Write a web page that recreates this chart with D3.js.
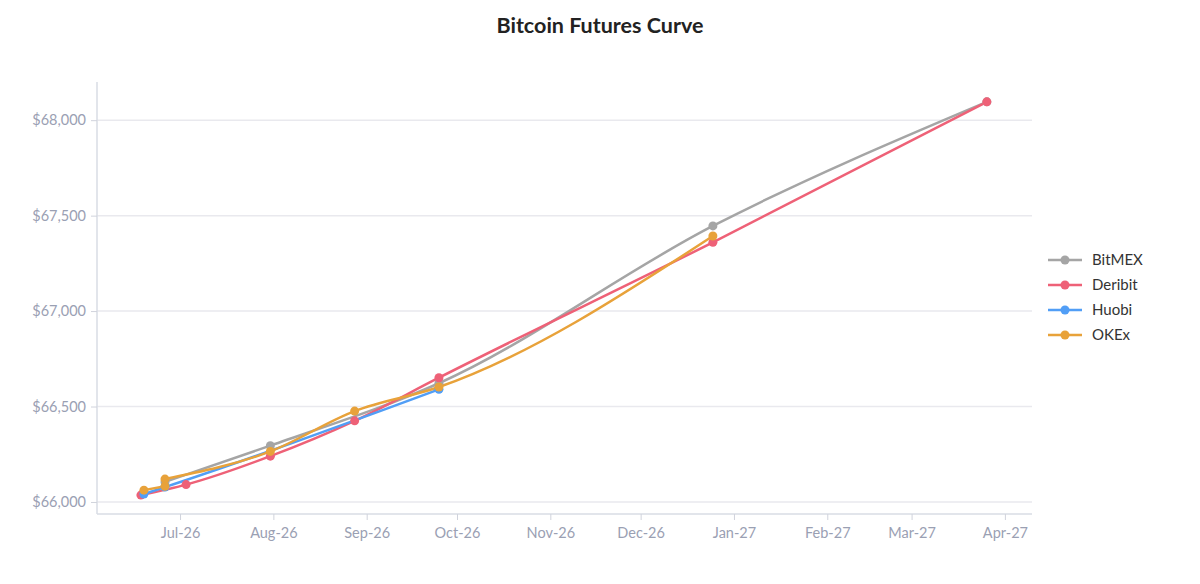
<!DOCTYPE html>
<html>
<head>
<meta charset="utf-8">
<script src="https://cdn.jsdelivr.net/npm/d3@7/dist/d3.min.js"></script>
<style>
  html, body { margin: 0; padding: 0; background: #ffffff; }
  svg { display: block; font-family: Lato, "Open Sans", sans-serif; }
</style>
</head>
<body>
<svg id="chart" width="1200" height="584"></svg>
<script>
// ---- Data ----
const seriesNames = ["BitMEX", "Deribit", "Huobi", "OKEx"];
const seriesColors = ["#a5a5a5", "#ee6177", "#519ef6", "#e8a23a"];

const bitmexDates  = ["2026-06-26", "2026-07-31", "2026-09-25", "2026-12-25", "2027-03-26"];
const bitmexValues = [66105, 66295, 66622, 67446, 68096];

const deribitDates  = ["2026-06-18", "2026-07-03", "2026-07-31", "2026-08-28", "2026-09-25", "2026-12-25", "2027-03-26"];
const deribitValues = [66036, 66091, 66240, 66425, 66651, 67360, 68096];

const huobiDates  = ["2026-06-19", "2026-06-26", "2026-09-25"];
const huobiValues = [66042, 66078, 66590];

const okexDates  = ["2026-06-19", "2026-06-26", "2026-06-26", "2026-07-31", "2026-08-28", "2026-09-25", "2026-12-25"];
const okexValues = [66062, 66082, 66120, 66265, 66476, 66602, 67393];

const yTicks = [66000, 66500, 67000, 67500, 68000];
const xTickDates = ["2026-07-01", "2026-08-01", "2026-09-01", "2026-10-01", "2026-11-01", "2026-12-01",
                    "2027-01-01", "2027-02-01", "2027-03-01", "2027-04-01"];
const titleText = "Bitcoin Futures Curve";

// ---- Build ----
const parse = d3.timeParse("%Y-%m-%d");
const allDates = [bitmexDates, deribitDates, huobiDates, okexDates];
const allValues = [bitmexValues, deribitValues, huobiValues, okexValues];
const series = seriesNames.map((name, i) => ({
  name, color: seriesColors[i],
  points: allDates[i].map((d, j) => ({ date: parse(d), value: allValues[i][j] }))
}));

const svg = d3.select("#chart");
const pLeft = 97, pRight = 1032, pTop = 82, pBottom = 514;

const x = d3.scaleTime()
  .domain([new Date(2026, 5, 3, 10), new Date(2027, 3, 10)])
  .range([pLeft, pRight]);
const y = d3.scaleLinear()
  .domain([65937, 68200])
  .range([pBottom, pTop]);

// Title
svg.append("text")
  .attr("x", 600).attr("y", 33)
  .attr("text-anchor", "middle")
  .attr("font-size", 21.5).attr("font-weight", "bold")
  .attr("fill", "#222222")
  .text(titleText);

// Gridlines
svg.append("g")
  .selectAll("line")
  .data(yTicks)
  .join("line")
  .attr("x1", pLeft).attr("x2", pRight)
  .attr("y1", d => y(d)).attr("y2", d => y(d))
  .attr("stroke", "#e9e9ee").attr("stroke-width", 1.5);

// Y axis
const yAxis = svg.append("g")
  .attr("transform", `translate(${pLeft},0)`)
  .call(d3.axisLeft(y).tickValues(yTicks).tickSize(6).tickPadding(5)
        .tickFormat(d => "$" + d3.format(",")(d)));
yAxis.select(".domain").attr("stroke", "#d9dce4").attr("stroke-width", 1.5)
  .attr("d", `M0,${pTop}V${pBottom}`);
yAxis.selectAll(".tick line").attr("stroke", "#d0d3dc");
yAxis.selectAll(".tick text").attr("fill", "#9aa0b3").attr("font-size", 14.5)
  .attr("font-family", "Lato, sans-serif");

// X axis
const xAxis = svg.append("g")
  .attr("transform", `translate(0,${pBottom})`)
  .call(d3.axisBottom(x).tickValues(xTickDates.map(parse)).tickSize(6).tickPadding(8)
        .tickFormat(d3.timeFormat("%b-%y")));
xAxis.select(".domain").attr("stroke", "#d9dce4").attr("stroke-width", 1.5)
  .attr("d", `M${pLeft},0H${pRight}`);
xAxis.selectAll(".tick line").attr("stroke", "#d0d3dc");
xAxis.selectAll(".tick text").attr("fill", "#9aa0b3").attr("font-size", 14.5)
  .attr("font-family", "Lato, sans-serif");

// Lines (monotone; points sharing a date are joined by a straight segment)
const smooth = d3.line()
  .x(d => x(d.date)).y(d => y(d.value))
  .curve(d3.curveMonotoneX);
const straight = d3.line()
  .x(d => x(d.date)).y(d => y(d.value));

function chunks(points) {
  const out = [];
  let cur = [points[0]];
  for (let i = 1; i < points.length; i++) {
    if (+points[i].date === +points[i - 1].date) {
      out.push({ pts: cur, curve: true });
      out.push({ pts: [points[i - 1], points[i]], curve: false });
      cur = [points[i]];
    } else {
      cur.push(points[i]);
    }
  }
  out.push({ pts: cur, curve: true });
  return out;
}

const g = svg.append("g");
series.forEach(s => {
  chunks(s.points).forEach(c => {
    if (c.pts.length < 2) return;
    g.append("path")
      .datum(c.pts)
      .attr("fill", "none")
      .attr("stroke", s.color)
      .attr("stroke-width", 2.5)
      .attr("stroke-linecap", "round")
      .attr("d", c.curve ? smooth : straight);
  });
});
series.forEach(s => {
  g.selectAll(null)
    .data(s.points)
    .join("circle")
    .attr("cx", d => x(d.date)).attr("cy", d => y(d.value))
    .attr("r", 4.5)
    .attr("fill", s.color);
});

// Legend
const legend = svg.append("g").attr("transform", "translate(1048,260)");
series.forEach((s, i) => {
  const row = legend.append("g").attr("transform", `translate(0,${i * 25})`);
  row.append("line").attr("x1", 0).attr("x2", 34).attr("y1", 0).attr("y2", 0)
    .attr("stroke", s.color).attr("stroke-width", 2.5);
  row.append("circle").attr("cx", 17).attr("cy", 0).attr("r", 4.5).attr("fill", s.color);
  row.append("text").attr("x", 44).attr("y", 0).attr("dy", "0.35em")
    .attr("font-size", 15).attr("fill", "#333333").text(s.name);
});
</script>
</body>
</html>
